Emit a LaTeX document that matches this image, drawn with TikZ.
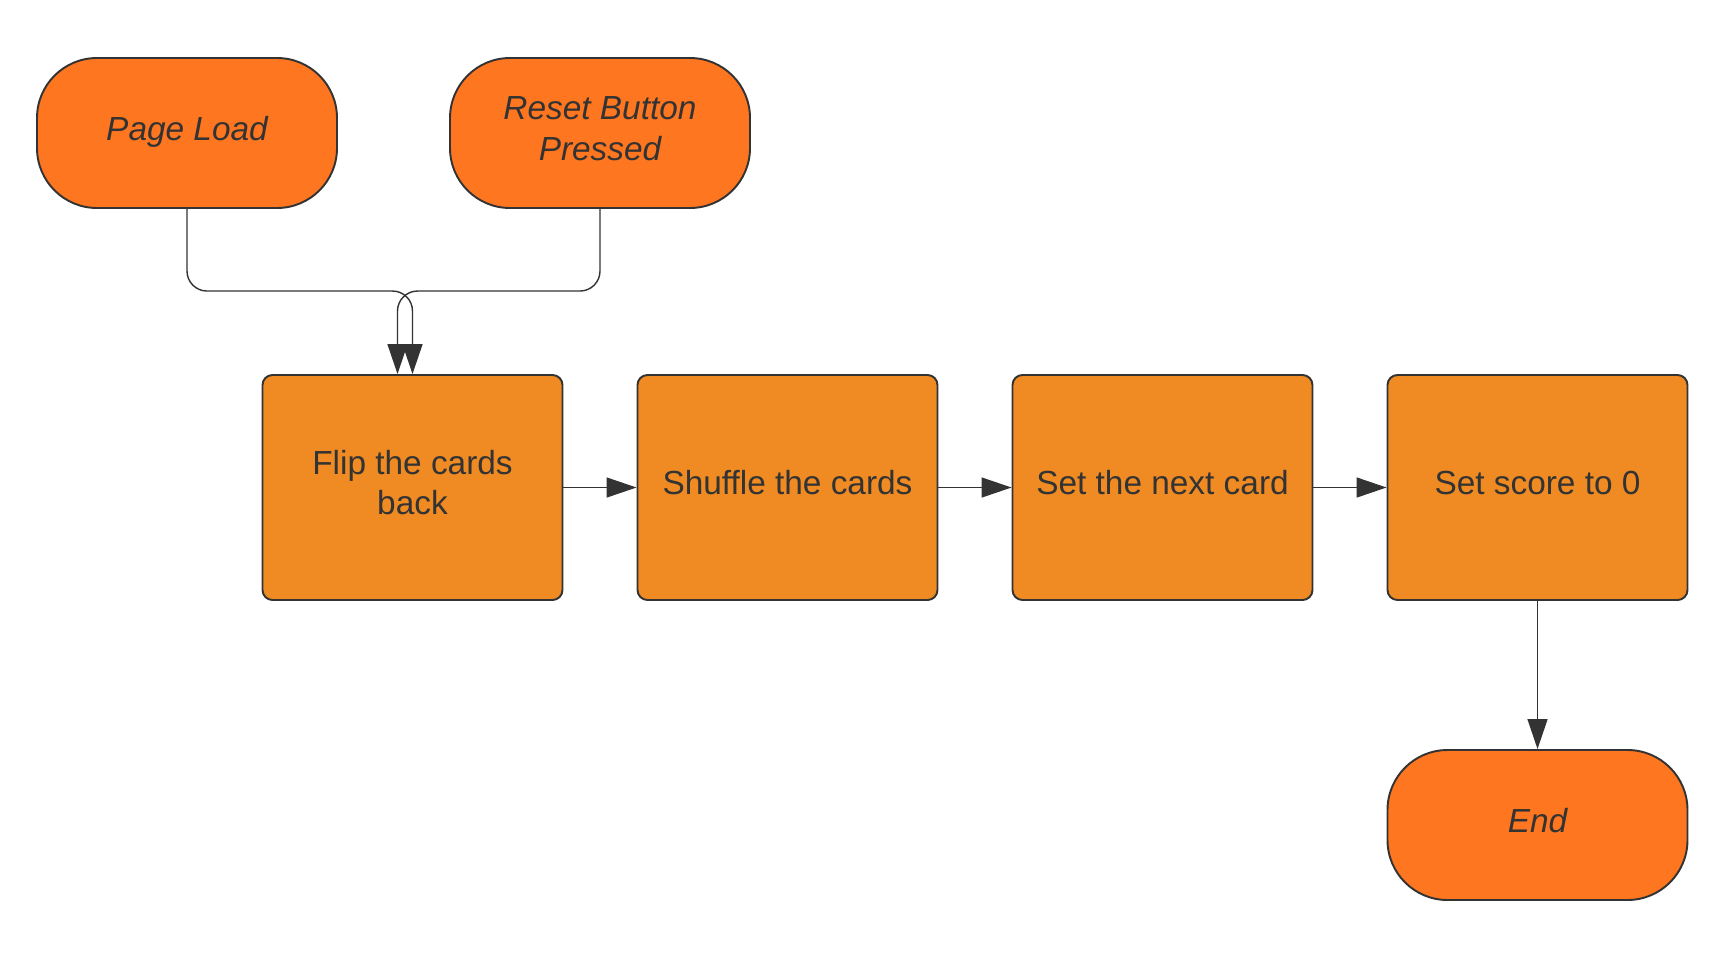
\documentclass[tikz,border=0pt]{standalone}
\usepackage{fontspec}
\setmainfont{Liberation Sans}
\usepackage{tikz}
\usepackage{xcolor}
\usetikzlibrary{shapes.geometric, arrows, arrows.meta}
\usetikzlibrary{fit,calc,positioning}
\definecolor{termfill}{HTML}{FE761F}
\definecolor{procfill}{HTML}{EF8B22}
\definecolor{ink}{HTML}{333333}

\begin{document}
\begin{tikzpicture}[
  term/.style={draw=ink, line width=0.55pt, fill=termfill, rounded corners=0.6cm, minimum width=3cm, minimum height=1.5cm, align=center, text=ink, text depth=0.09cm, font=\fontsize{9.5}{11.9}\selectfont\itshape},
  proc/.style={draw=ink, line width=0.55pt, fill=procfill, rounded corners=0.1cm, minimum width=3cm, minimum height=2.25cm, align=center, text=ink, text depth=0.1cm, font=\fontsize{9.5}{11.5}\selectfont},
  flow/.style={draw=ink, line width=0.4pt, -{Triangle[length=0.3cm,width=0.2cm]}}]
\useasboundingbox (0,0) rectangle (17.30,-9.67);
  \matrix[column sep={3.75cm,between origins}, row sep={3.375cm,between origins}, matrix anchor=flip.center] at (4.125,-4.875) {
    \node[proc](flip){Flip the cards\\back}; & \node[proc](shuffle){Shuffle the cards}; & \node[proc](next){Set the next card}; & \node[proc](score){Set score to 0}; \\
    & & & \node[term](end){End}; \\
  };
  \node[term] (load) at (1.87,-1.33) {Page Load};
  \node[term] (reset) at (6.00,-1.33) {Reset Button\\Pressed};
  \draw[flow, rounded corners=0.2cm] (load.south) |- ([yshift=0.83cm]flip.north) -- (flip.north);
  \draw[flow, rounded corners=0.2cm] (reset.south) |- ([xshift=-0.15cm,yshift=0.83cm]flip.north) -- ([xshift=-0.15cm]flip.north);
  \draw[flow] (flip) -- (shuffle);
  \draw[flow] (shuffle) -- (next);
  \draw[flow] (next) -- (score);
  \draw[flow] (score) -- (end);
\end{tikzpicture}
\end{document}
